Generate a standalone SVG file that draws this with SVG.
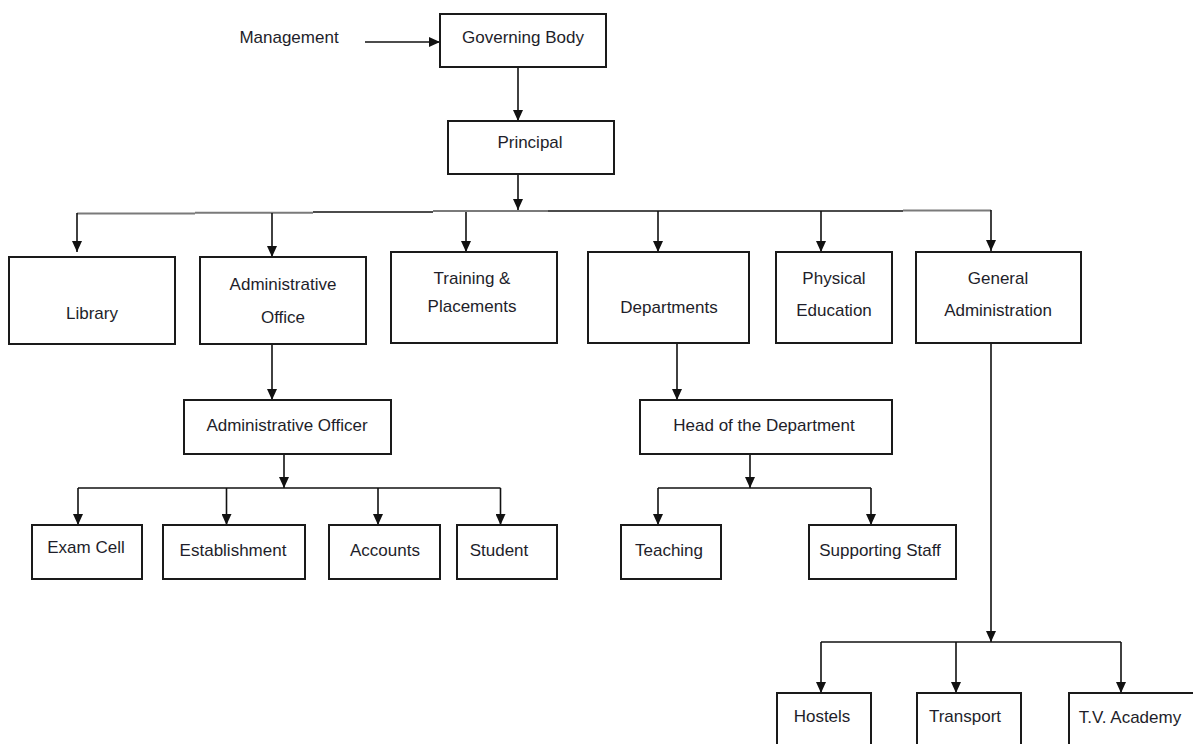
<svg xmlns="http://www.w3.org/2000/svg" width="1193" height="744" viewBox="0 0 1193 744">
<defs>
<marker id="ah" viewBox="0 0 11 10" refX="11" refY="5" markerWidth="11" markerHeight="10" markerUnits="userSpaceOnUse" orient="auto">
<path d="M0,0 L11,5 L0,10 z" fill="#111"/>
</marker>
<style>
.box{fill:#fff;stroke:#1a1a1a;stroke-width:2}
.t{font-family:"Liberation Sans",Arial,sans-serif;font-size:17px;fill:#1e1e2a;text-anchor:middle}
.c{fill:none;stroke:#111;stroke-width:1.6}
.a{fill:none;stroke:#111;stroke-width:1.6;marker-end:url(#ah)}
.g{fill:none;stroke:#7a7a7a;stroke-width:2}
</style>
</defs>
<rect width="1193" height="744" fill="#fff"/>

<g id="connectors">
<path class="a" d="M365,42 H440"/>
<path class="a" d="M518,67 V121"/>
<path class="a" d="M518,174 V210"/>
<path class="g" d="M77,213.5 H195"/>
<path class="g" d="M195,212.8 H313"/>
<path class="c" d="M313,212 H433"/>
<path class="g" d="M433,211 H548"/>
<path class="c" d="M548,211 H903"/>
<path class="g" d="M903,210.5 H991"/>
<path class="a" d="M77,213 V252"/>
<path class="a" d="M272,213 V257"/>
<path class="a" d="M466,212 V252"/>
<path class="a" d="M658,211 V252"/>
<path class="a" d="M821,211 V252"/>
<path class="a" d="M991,210 V251"/>
<path class="a" d="M272,344 V400"/>
<path class="a" d="M284,454 V488"/>
<path class="c" d="M78,488 H500.5"/>
<path class="a" d="M78,488 V525"/>
<path class="a" d="M226.5,488 V525"/>
<path class="a" d="M378,488 V525"/>
<path class="a" d="M500.5,488 V525"/>
<path class="a" d="M677,343 V400"/>
<path class="a" d="M750,454 V488"/>
<path class="c" d="M658,488 H871"/>
<path class="a" d="M658,488 V525"/>
<path class="a" d="M871,488 V525"/>
<path class="a" d="M991,343 V642"/>
<path class="c" d="M821,642 H1121"/>
<path class="a" d="M821,642 V693"/>
<path class="a" d="M956,642 V693"/>
<path class="a" d="M1121,642 V693"/>
</g>

<g id="management"><text class="t" x="289" y="43">Management</text></g>
<g id="governing-body"><rect class="box" x="440" y="14" width="166" height="53"/><text class="t" x="523" y="43">Governing Body</text></g>
<g id="principal"><rect class="box" x="448" y="121" width="166" height="53"/><text class="t" x="530" y="148">Principal</text></g>

<g id="library"><rect class="box" x="9" y="257" width="166" height="87"/><text class="t" x="92" y="319">Library</text></g>
<g id="administrative-office"><rect class="box" x="200" y="257" width="166" height="87"/><text class="t" x="283" y="290">Administrative</text><text class="t" x="283" y="323">Office</text></g>
<g id="training-placements"><rect class="box" x="391" y="252" width="166" height="91"/><text class="t" x="472" y="284">Training &amp;</text><text class="t" x="472" y="312">Placements</text></g>
<g id="departments"><rect class="box" x="588" y="252" width="161" height="91"/><text class="t" x="669" y="313">Departments</text></g>
<g id="physical-education"><rect class="box" x="776" y="252" width="116" height="91"/><text class="t" x="834" y="284">Physical</text><text class="t" x="834" y="316">Education</text></g>
<g id="general-administration"><rect class="box" x="916" y="252" width="165" height="91"/><text class="t" x="998" y="284">General</text><text class="t" x="998" y="316">Administration</text></g>

<g id="administrative-officer"><rect class="box" x="184" y="400" width="207" height="54"/><text class="t" x="287" y="431">Administrative Officer</text></g>
<g id="head-of-department"><rect class="box" x="640" y="400" width="252" height="54"/><text class="t" x="764" y="431">Head of the Department</text></g>

<g id="exam-cell"><rect class="box" x="32" y="525" width="110" height="54"/><text class="t" x="86" y="553">Exam Cell</text></g>
<g id="establishment"><rect class="box" x="163" y="525" width="142" height="54"/><text class="t" x="233" y="556">Establishment</text></g>
<g id="accounts"><rect class="box" x="329" y="525" width="111" height="54"/><text class="t" x="385" y="556">Accounts</text></g>
<g id="student"><rect class="box" x="457" y="525" width="100" height="54"/><text class="t" x="499" y="556">Student</text></g>
<g id="teaching"><rect class="box" x="621" y="525" width="100" height="54"/><text class="t" x="669" y="556">Teaching</text></g>
<g id="supporting-staff"><rect class="box" x="809" y="525" width="147" height="54"/><text class="t" x="880" y="556">Supporting Staff</text></g>

<g id="hostels"><rect class="box" x="777" y="693" width="94" height="70"/><text class="t" x="822" y="722">Hostels</text></g>
<g id="transport"><rect class="box" x="917" y="693" width="104" height="70"/><text class="t" x="965" y="722">Transport</text></g>
<g id="tv-academy"><rect class="box" x="1069" y="693" width="140" height="70"/><text class="t" x="1130" y="723">T.V. Academy</text></g>
</svg>
